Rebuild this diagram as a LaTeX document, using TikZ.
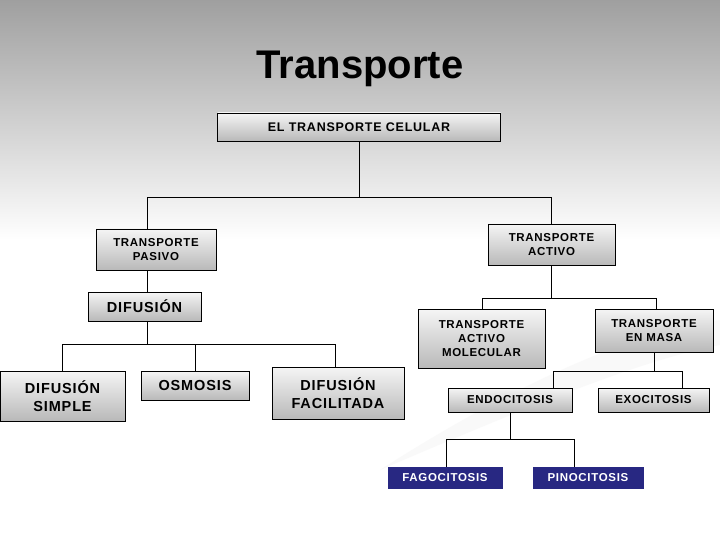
\documentclass[tikz,border=0pt]{standalone}
\usepackage{fontspec}
\setmainfont{Liberation Sans}[LetterSpace=6]
\newfontfamily\titlefont{Liberation Sans}
\definecolor{navy}{RGB}{40,40,130}
\begin{document}
\begin{tikzpicture}[x=1pt,y=-1pt,
  box/.style={draw=black,line width=0.8pt,top color=gray!8,bottom color=gray!55,
    inner sep=0pt,align=center,font=\bfseries\fontsize{11.5}{14}\selectfont},
  bigbox/.style={box,font=\bfseries\fontsize{14.5}{17.5}\selectfont},
  bluebox/.style={fill=navy,draw=navy,text=white,inner sep=0pt,align=center,
    font=\bfseries\fontsize{11.5}{13}\selectfont},
  wire/.style={draw=black,line width=0.7pt}]
\useasboundingbox (0,0) rectangle (720,540);
\shade[top color=gray!75,bottom color=white] (0,0) rectangle (720,240);
\fill[white] (0,239.5) rectangle (720,540);
\fill[gray!5] (380,470) .. controls (520,380) and (640,330) .. (720,320) -- (720,345) .. controls (640,360) and (520,410) .. (380,470) -- cycle;
\node[font=\titlefont\bfseries\fontsize{40}{48}\selectfont] (title) at (360,69) {Transporte};
\node[box,minimum width=283,minimum height=28,font=\bfseries\fontsize{12.5}{14}\selectfont] (cel) at (359,127) {EL TRANSPORTE CELULAR};
\node[box,minimum width=120,minimum height=41] (pas) at (156,249.5) {TRANSPORTE\\PASIVO};
\node[box,minimum width=127,minimum height=41] (act) at (551.5,244.5) {TRANSPORTE\\ACTIVO};
\node[bigbox,minimum width=113,minimum height=29] (dif) at (144.5,306.5) {DIFUSIÓN};
\node[bigbox,minimum width=125,minimum height=50] (sim) at (62.5,396) {DIFUSIÓN\\SIMPLE};
\node[bigbox,minimum width=108,minimum height=29] (osm) at (195,385.5) {OSMOSIS};
\node[bigbox,minimum width=132,minimum height=52] (fac) at (338,393) {DIFUSIÓN\\FACILITADA};
\node[box,minimum width=127,minimum height=59] (mol) at (481.5,338.5) {TRANSPORTE\\ACTIVO\\MOLECULAR};
\node[box,minimum width=118,minimum height=43] (mas) at (654,330.5) {TRANSPORTE\\EN MASA};
\node[box,minimum width=124,minimum height=24] (endo) at (510,400) {ENDOCITOSIS};
\node[box,minimum width=111,minimum height=24] (exo) at (653.5,400) {EXOCITOSIS};
\node[bluebox,minimum width=114,minimum height=21] (fag) at (445,477.5) {FAGOCITOSIS};
\node[bluebox,minimum width=110,minimum height=21] (pin) at (588,477.5) {PINOCITOSIS};
% connectors
\draw[wire] (cel.south) |- (147,197) -- (pas.north -| 147,0);
\draw[wire] (cel.south) |- (551,197) -- (act.north -| 551,0);
\draw[wire] (pas.south -| 147,0) -- (dif.north -| 147,0);
\draw[wire] (dif.south -| 147,0) |- (62,344) -- (sim.north -| 62,0);
\draw[wire] (dif.south -| 147,0) |- (335,344) -- (fac.north -| 335,0);
\draw[wire] (osm.north) -- (195,344);
\draw[wire] (act.south) |- (482,298) -- (mol.north -| 482,0);
\draw[wire] (act.south) |- (656,298) -- (mas.north -| 656,0);
\draw[wire] (mas.south) |- (553,371) -- (endo.north -| 553,0);
\draw[wire] (mas.south) |- (682,371) -- (exo.north -| 682,0);
\draw[wire] (endo.south) |- (446,439) -- (fag.north -| 446,0);
\draw[wire] (endo.south) |- (574,439) -- (pin.north -| 574,0);
\end{tikzpicture}
\end{document}
